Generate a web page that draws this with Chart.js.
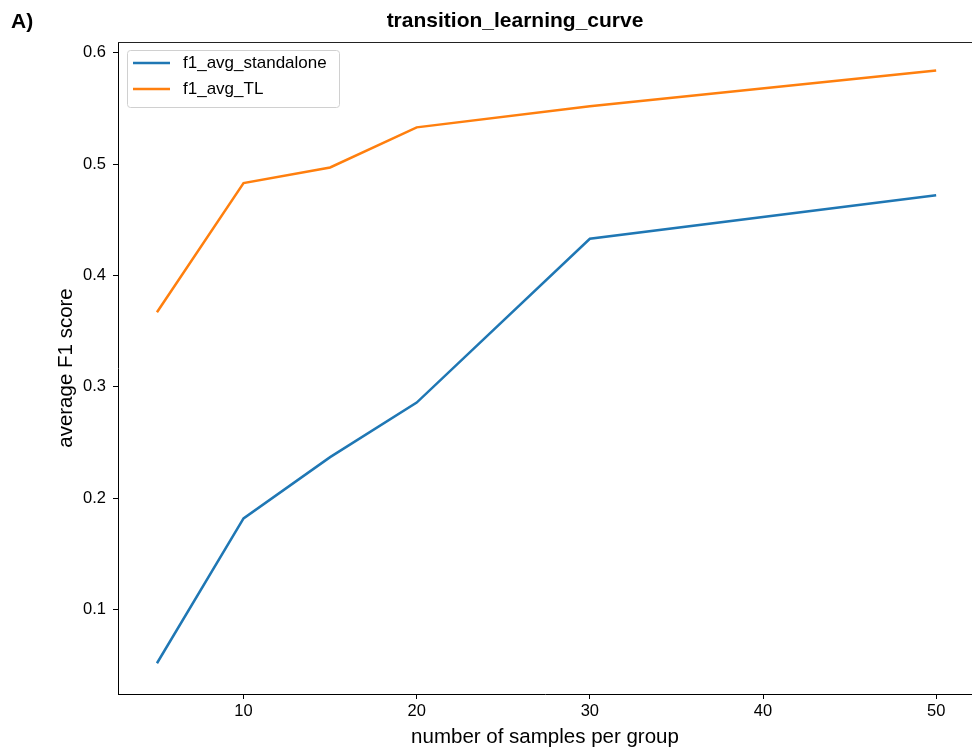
<!DOCTYPE html>
<html>
<head>
<meta charset="utf-8">
<script src="https://cdn.jsdelivr.net/npm/chart.js@4"></script>
<style>
  html, body { margin: 0; padding: 0; background: #fff; overflow: hidden; }
  canvas { display: block; }
</style>
</head>
<body>
<canvas id="chart" width="972" height="751"></canvas>
<script>
// values
const samples = [5, 10, 15, 20, 30, 50];
const f1Standalone = [0.052, 0.182, 0.237, 0.286, 0.433, 0.472];
const f1TL = [0.367, 0.483, 0.497, 0.533, 0.552, 0.584];
const xTicks = [10, 20, 30, 40, 50];
const yTicks = [0.1, 0.2, 0.3, 0.4, 0.5, 0.6];
const chartTitle = 'transition_learning_curve';
const panelLetter = 'A)';

const FONT = 'Liberation Sans, Arial, sans-serif';

// title, top spine, panel letter and in-axes legend (matplotlib style)
const extras = {
  id: 'extras',
  afterDraw(chart) {
    const ctx = chart.ctx;
    const area = chart.chartArea;
    ctx.save();
    ctx.strokeStyle = '#222';
    ctx.lineWidth = 1;
    ctx.beginPath();
    ctx.moveTo(area.left, area.top + 0.5);
    ctx.lineTo(area.right, area.top + 0.5);
    ctx.stroke();

    ctx.fillStyle = '#000';
    ctx.font = 'bold 21px ' + FONT;
    ctx.textBaseline = 'middle';
    ctx.textAlign = 'left';
    ctx.fillText(panelLetter, 11, 22);
    ctx.textAlign = 'center';
    ctx.fillText(chartTitle, 515, 21);

    // legend box
    const bx = 127, by = 50, bw = 212, bh = 57;
    ctx.fillStyle = 'rgba(255,255,255,0.8)';
    ctx.strokeStyle = '#d0d0d0';
    ctx.lineWidth = 1;
    ctx.beginPath();
    ctx.roundRect(bx + 0.5, by + 0.5, bw, bh, 3);
    ctx.fill();
    ctx.stroke();
    ctx.font = '17px ' + FONT;
    ctx.textAlign = 'left';
    chart.data.datasets.forEach((ds, i) => {
      const y = by + 13 + i * 26;
      ctx.strokeStyle = ds.borderColor;
      ctx.lineWidth = 2.5;
      ctx.beginPath();
      ctx.moveTo(133, y);
      ctx.lineTo(170, y);
      ctx.stroke();
      ctx.fillStyle = '#000';
      ctx.fillText(ds.label, 183, y);
    });
    ctx.restore();
  }
};

new Chart(document.getElementById('chart'), {
  type: 'line',
  data: {
    labels: samples,
    datasets: [
      {
        label: 'f1_avg_standalone',
        data: samples.map((x, i) => ({ x: x, y: f1Standalone[i] })),
        borderColor: '#1f77b4',
        borderWidth: 2.5,
        pointRadius: 0,
        tension: 0,
        fill: false
      },
      {
        label: 'f1_avg_TL',
        data: samples.map((x, i) => ({ x: x, y: f1TL[i] })),
        borderColor: '#ff7f0e',
        borderWidth: 2.5,
        pointRadius: 0,
        tension: 0,
        fill: false
      }
    ]
  },
  options: {
    responsive: false,
    animation: false,
    layout: { padding: { left: 0, right: 0, top: 42, bottom: 0 } },
    plugins: {
      legend: { display: false },
      tooltip: { enabled: false },
      title: { display: false }
    },
    scales: {
      x: {
        type: 'linear',
        min: 2.75,
        max: 52.07,
        afterBuildTicks: (scale) => { scale.ticks = xTicks.map(v => ({ value: v })); },
        afterFit: (scale) => { scale.height = 57; },
        grid: { drawOnChartArea: false, tickLength: 5, color: '#000', tickWidth: 1 },
        border: { display: true, color: '#000', width: 1 },
        ticks: {
          color: '#000',
          padding: 3,
          maxRotation: 0,
          font: { family: FONT, size: 16.5 }
        },
        title: {
          display: true,
          text: 'number of samples per group',
          color: '#000',
          font: { family: FONT, size: 20.5, lineHeight: 1.2 },
          padding: { top: 0, bottom: 1 }
        }
      },
      y: {
        type: 'linear',
        min: 0.0244,
        max: 0.6096,
        afterBuildTicks: (scale) => { scale.ticks = yTicks.map(v => ({ value: v })); },
        afterFit: (scale) => { scale.width = 118; },
        grid: { drawOnChartArea: false, tickLength: 5, color: '#000', tickWidth: 1 },
        border: { display: true, color: '#000', width: 1 },
        ticks: {
          color: '#000',
          padding: 7,
          font: { family: FONT, size: 16.5 },
          callback: (v) => v.toFixed(1)
        },
        title: {
          display: true,
          text: 'average F1 score',
          color: '#000',
          font: { family: FONT, size: 20.5, lineHeight: 1.2 },
          padding: { top: 54, bottom: 0 }
        }
      }
    }
  },
  plugins: [extras]
});
</script>
</body>
</html>
